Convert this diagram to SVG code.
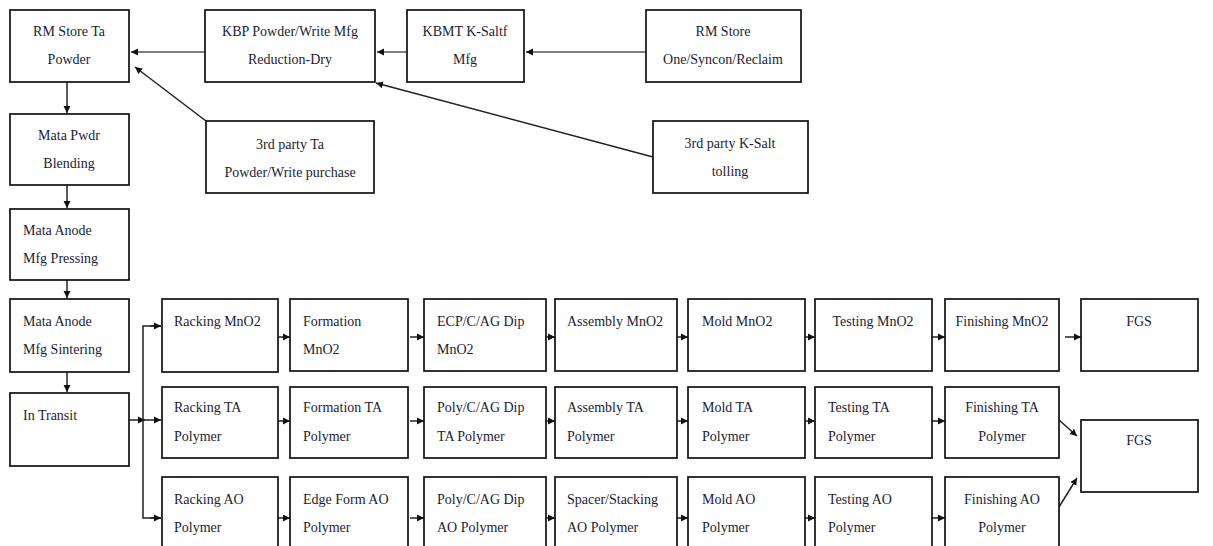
<svg xmlns="http://www.w3.org/2000/svg" width="1213" height="546" viewBox="0 0 1213 546">
<style>
rect{fill:#fff;stroke:#111;stroke-width:1.7}
text{font-family:"Liberation Serif",serif;font-size:14px;fill:#1c1c30}
.c{text-anchor:middle}
.ln{stroke:#222;stroke-width:1.5;fill:none}
.g{stroke:#555}
</style>
<defs>
<marker id="ah" markerWidth="8" markerHeight="8" refX="7" refY="4" orient="auto" markerUnits="userSpaceOnUse">
<path d="M0,0.5 L7,4 L0,7.5 Z" fill="#111"/>
</marker>
</defs>
<rect x="0" y="0" width="1213" height="546" style="fill:#fff;stroke:none"/>
<g id="connectors">
<line class="ln g" x1="205" y1="52" x2="131" y2="52" marker-end="url(#ah)"/>
<line class="ln g" x1="407" y1="52" x2="377" y2="52" marker-end="url(#ah)"/>
<line class="ln g" x1="646" y1="52" x2="526" y2="52" marker-end="url(#ah)"/>
<line class="ln" x1="206" y1="121" x2="135" y2="67" marker-end="url(#ah)"/>
<line class="ln" x1="653" y1="157" x2="376" y2="83" marker-end="url(#ah)"/>
<line class="ln" x1="67" y1="82" x2="67" y2="113" marker-end="url(#ah)"/>
<line class="ln" x1="67" y1="185" x2="67" y2="208" marker-end="url(#ah)"/>
<line class="ln" x1="67" y1="280" x2="67" y2="298" marker-end="url(#ah)"/>
<line class="ln" x1="67" y1="372" x2="67" y2="392" marker-end="url(#ah)"/>
<line class="ln" x1="129" y1="420" x2="145" y2="420" marker-end="url(#ah)"/>
<line class="ln" x1="143" y1="420" x2="161" y2="420" marker-end="url(#ah)"/>
<polyline class="ln" points="161,326 143,326 143,518 161,518"/>
<line class="ln" x1="150" y1="326" x2="161" y2="326" marker-end="url(#ah)"/>
<line class="ln" x1="150" y1="518" x2="161" y2="518" marker-end="url(#ah)"/>
<!-- row 1 -->
<line class="ln" x1="278" y1="337" x2="290" y2="337" marker-end="url(#ah)"/>
<line class="ln" x1="410" y1="337" x2="424" y2="337" marker-end="url(#ah)"/>
<line class="ln" x1="546" y1="337" x2="555" y2="337" marker-end="url(#ah)"/>
<line class="ln" x1="677" y1="337" x2="688" y2="337" marker-end="url(#ah)"/>
<line class="ln" x1="805" y1="337" x2="815" y2="337" marker-end="url(#ah)"/>
<line class="ln" x1="932" y1="337" x2="945" y2="337" marker-end="url(#ah)"/>
<line class="ln" x1="1065" y1="337" x2="1081" y2="337" marker-end="url(#ah)"/>
<!-- row 2 -->
<line class="ln" x1="278" y1="421" x2="290" y2="421" marker-end="url(#ah)"/>
<line class="ln" x1="410" y1="421" x2="424" y2="421" marker-end="url(#ah)"/>
<line class="ln" x1="546" y1="421" x2="555" y2="421" marker-end="url(#ah)"/>
<line class="ln" x1="677" y1="421" x2="688" y2="421" marker-end="url(#ah)"/>
<line class="ln" x1="805" y1="421" x2="815" y2="421" marker-end="url(#ah)"/>
<line class="ln" x1="932" y1="421" x2="945" y2="421" marker-end="url(#ah)"/>
<line class="ln" x1="1059" y1="420" x2="1077" y2="436" marker-end="url(#ah)"/>
<!-- row 3 -->
<line class="ln" x1="278" y1="518" x2="290" y2="518" marker-end="url(#ah)"/>
<line class="ln" x1="410" y1="518" x2="424" y2="518" marker-end="url(#ah)"/>
<line class="ln" x1="546" y1="518" x2="555" y2="518" marker-end="url(#ah)"/>
<line class="ln" x1="677" y1="518" x2="688" y2="518" marker-end="url(#ah)"/>
<line class="ln" x1="805" y1="518" x2="815" y2="518" marker-end="url(#ah)"/>
<line class="ln" x1="932" y1="518" x2="945" y2="518" marker-end="url(#ah)"/>
<line class="ln" x1="1059" y1="507" x2="1077" y2="478" marker-end="url(#ah)"/>
</g>
<g id="rm-store-ta"><rect x="10" y="10" width="119" height="72"/><text class="c" x="69" y="36">RM Store Ta</text><text class="c" x="69" y="64">Powder</text></g>
<g id="kbp"><rect x="205" y="10" width="170" height="72"/><text class="c" x="290" y="36">KBP Powder/Write Mfg</text><text class="c" x="290" y="64">Reduction-Dry</text></g>
<g id="kbmt"><rect x="407" y="10" width="117" height="72"/><text class="c" x="465" y="36">KBMT K-Saltf</text><text class="c" x="465" y="64">Mfg</text></g>
<g id="rm-store-one"><rect x="646" y="10" width="155" height="72"/><text class="c" x="723" y="36">RM Store</text><text class="c" x="723" y="64">One/Syncon/Reclaim</text></g>
<g id="third-ta"><rect x="206" y="121" width="168" height="72"/><text class="c" x="290" y="149">3rd party Ta</text><text class="c" x="290" y="177">Powder/Write purchase</text></g>
<g id="third-ksalt"><rect x="653" y="121" width="155" height="72"/><text class="c" x="730" y="148">3rd party K-Salt</text><text class="c" x="730" y="176">tolling</text></g>
<g id="mata-pwdr"><rect x="10" y="114" width="119" height="71"/><text class="c" x="69" y="140">Mata Pwdr</text><text class="c" x="69" y="168">Blending</text></g>
<g id="mata-pressing"><rect x="10" y="209" width="119" height="71"/><text x="23" y="235">Mata Anode</text><text x="23" y="263">Mfg Pressing</text></g>
<g id="mata-sintering"><rect x="10" y="299" width="119" height="73"/><text x="23" y="326">Mata Anode</text><text x="23" y="354">Mfg Sintering</text></g>
<g id="in-transit"><rect x="10" y="393" width="119" height="73"/><text x="23" y="420">In Transit</text></g>
<!-- row 1 -->
<g id="racking-mno2"><rect x="162" y="299" width="116" height="73"/><text x="174" y="326">Racking MnO2</text></g>
<g id="formation-mno2"><rect x="290" y="299" width="118" height="72"/><text x="303" y="326">Formation</text><text x="303" y="354">MnO2</text></g>
<g id="ecp-mno2"><rect x="424" y="299" width="122" height="72"/><text x="437" y="326">ECP/C/AG Dip</text><text x="437" y="354">MnO2</text></g>
<g id="assembly-mno2"><rect x="555" y="299" width="122" height="72"/><text x="567" y="326">Assembly MnO2</text></g>
<g id="mold-mno2"><rect x="688" y="299" width="117" height="72"/><text x="702" y="326">Mold MnO2</text></g>
<g id="testing-mno2"><rect x="815" y="299" width="117" height="72"/><text class="c" x="873" y="326">Testing MnO2</text></g>
<g id="finishing-mno2"><rect x="945" y="299" width="114" height="72"/><text class="c" x="1002" y="326">Finishing MnO2</text></g>
<g id="fgs-1"><rect x="1081" y="299" width="117" height="72"/><text class="c" x="1139" y="326">FGS</text></g>
<!-- row 2 -->
<g id="racking-ta"><rect x="162" y="387" width="116" height="71"/><text x="174" y="412">Racking TA</text><text x="174" y="441">Polymer</text></g>
<g id="formation-ta"><rect x="290" y="387" width="118" height="71"/><text x="303" y="412">Formation TA</text><text x="303" y="441">Polymer</text></g>
<g id="poly-ta"><rect x="424" y="387" width="122" height="71"/><text x="437" y="412">Poly/C/AG Dip</text><text x="437" y="441">TA Polymer</text></g>
<g id="assembly-ta"><rect x="555" y="387" width="122" height="71"/><text x="567" y="412">Assembly TA</text><text x="567" y="441">Polymer</text></g>
<g id="mold-ta"><rect x="688" y="387" width="117" height="71"/><text x="702" y="412">Mold TA</text><text x="702" y="441">Polymer</text></g>
<g id="testing-ta"><rect x="815" y="387" width="117" height="71"/><text x="828" y="412">Testing TA</text><text x="828" y="441">Polymer</text></g>
<g id="finishing-ta"><rect x="945" y="387" width="114" height="71"/><text class="c" x="1002" y="412">Finishing TA</text><text class="c" x="1002" y="441">Polymer</text></g>
<g id="fgs-2"><rect x="1081" y="420" width="117" height="72"/><text class="c" x="1139" y="445">FGS</text></g>
<!-- row 3 -->
<g id="racking-ao"><rect x="162" y="477" width="116" height="74"/><text x="174" y="504">Racking AO</text><text x="174" y="532">Polymer</text></g>
<g id="edge-ao"><rect x="290" y="477" width="118" height="74"/><text x="303" y="504">Edge Form AO</text><text x="303" y="532">Polymer</text></g>
<g id="poly-ao"><rect x="424" y="477" width="122" height="74"/><text x="437" y="504">Poly/C/AG Dip</text><text x="437" y="532">AO Polymer</text></g>
<g id="spacer-ao"><rect x="555" y="477" width="122" height="74"/><text x="567" y="504">Spacer/Stacking</text><text x="567" y="532">AO Polymer</text></g>
<g id="mold-ao"><rect x="688" y="477" width="117" height="74"/><text x="702" y="504">Mold AO</text><text x="702" y="532">Polymer</text></g>
<g id="testing-ao"><rect x="815" y="477" width="117" height="74"/><text x="828" y="504">Testing AO</text><text x="828" y="532">Polymer</text></g>
<g id="finishing-ao"><rect x="945" y="477" width="114" height="74"/><text class="c" x="1002" y="504">Finishing AO</text><text class="c" x="1002" y="532">Polymer</text></g>
</svg>
